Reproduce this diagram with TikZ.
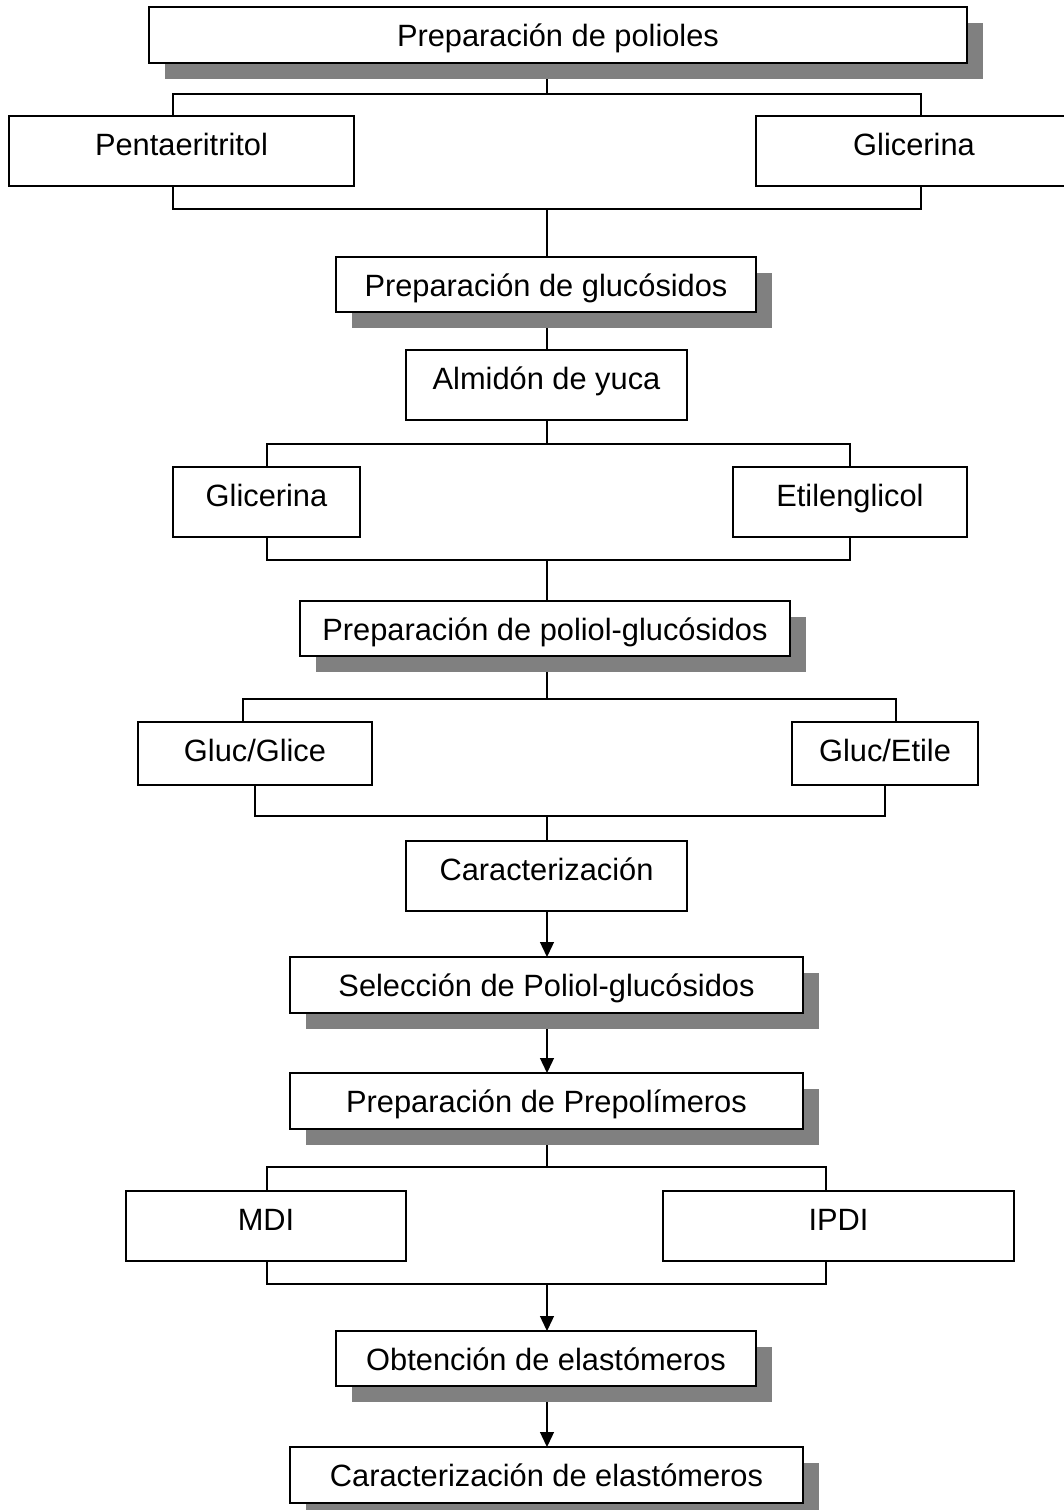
\documentclass[tikz,border=0pt]{standalone}
\usepackage{fontspec}
\setmainfont{Liberation Sans}
\usetikzlibrary{shadows,backgrounds,arrows.meta}
\tikzset{
  box/.style={draw, line width=1.5pt, fill=white, inner sep=0pt, outer sep=0pt,
    anchor=north, text height=39.5pt, font=\fontsize{30.8}{36}\selectfont},
  sbox/.style={box, drop shadow={shadow xshift=16pt, shadow yshift=-16pt, fill=black!50, opacity=1, draw=none}},
  conn/.style={line width=1.3pt},
  arr/.style={line width=1.3pt, -{Triangle[width=14pt,length=15pt]}}
}
\begin{document}
\begin{tikzpicture}[x=1pt,y=-1pt]
\useasboundingbox (0,0) rectangle (1064,1510);
% boxes
\node[sbox, minimum width=818pt, text depth=16.5pt] (top) at (558,7) {Preparación de polioles};
\node[box, minimum width=345pt, text depth=30.5pt] (pent) at (181.5,116) {Pentaeritritol};
\node[box, minimum width=316pt, text depth=30.5pt] (glic1) at (914,116) {Glicerina};
\node[sbox, minimum width=420pt, text depth=15.5pt] (gluco) at (546,257) {Preparación de glucósidos};
\node[box, minimum width=281pt, text depth=30.5pt] (almidon) at (546.5,350) {Almidón de yuca};
\node[box, minimum width=187pt, text depth=30.5pt] (glic2) at (266.5,467) {Glicerina};
\node[box, minimum width=234pt, text depth=30.5pt] (etil) at (850,467) {Etilenglicol};
\node[sbox, minimum width=490pt, text depth=15.5pt] (poliol) at (545,601) {Preparación de poliol-glucósidos};
\node[box, minimum width=234pt, text depth=23.5pt] (glucglice) at (255,722) {Gluc/Glice};
\node[box, minimum width=186pt, text depth=23.5pt] (glucetile) at (885,722) {Gluc/Etile};
\node[box, minimum width=281pt, text depth=30.5pt] (carac) at (546.5,841) {Caracterización};
\node[sbox, minimum width=513pt, text depth=16.5pt] (selec) at (546.5,957) {Selección de Poliol-glucósidos};
\node[sbox, minimum width=513pt, text depth=16.5pt] (prepol) at (546.5,1073) {Preparación de Prepolímeros};
\node[box, minimum width=280pt, text depth=30.5pt] (mdi) at (266,1191) {MDI};
\node[box, minimum width=351pt, text depth=30.5pt] (ipdi) at (838.5,1191) {IPDI};
\node[sbox, minimum width=420pt, text depth=15.5pt] (obten) at (546,1331) {Obtención de elastómeros};
\node[sbox, minimum width=513pt, text depth=16.5pt] (final) at (546.5,1447) {Caracterización de elastómeros};
% junction coordinates
\coordinate (m1) at (547,94);   \coordinate (a1) at (173,94);   \coordinate (b1) at (921,94);
\coordinate (m2) at (547,209);  \coordinate (a2) at (173,209);  \coordinate (b2) at (921,209);
\coordinate (m3) at (547,444);  \coordinate (a3) at (267,444);  \coordinate (b3) at (850,444);
\coordinate (m4) at (547,560);  \coordinate (a4) at (267,560);  \coordinate (b4) at (850,560);
\coordinate (m5) at (547,699);  \coordinate (a5) at (243,699);  \coordinate (b5) at (896,699);
\coordinate (m6) at (547,816);  \coordinate (a6) at (255,816);  \coordinate (b6) at (885,816);
\coordinate (m7) at (547,1167); \coordinate (a7) at (267,1167); \coordinate (b7) at (826,1167);
\coordinate (m8) at (547,1284); \coordinate (a8) at (267,1284); \coordinate (b8) at (826,1284);
\begin{scope}[on background layer]
\draw[conn] (top.south -| m1) -- (m1);
\draw[conn] (pent.north -| a1) -- (a1) -- (b1) -- (glic1.north -| b1);
\draw[conn] (pent.south -| a2) -- (a2) -- (b2) -- (glic1.south -| b2);
\draw[conn] (m2) -- (gluco.north -| m2);
\draw[conn] (gluco.south -| m2) -- (almidon.north -| m2);
\draw[conn] (almidon.south -| m3) -- (m3);
\draw[conn] (glic2.north -| a3) -- (a3) -- (b3) -- (etil.north -| b3);
\draw[conn] (glic2.south -| a4) -- (a4) -- (b4) -- (etil.south -| b4);
\draw[conn] (m4) -- (poliol.north -| m4);
\draw[conn] (poliol.south -| m5) -- (m5);
\draw[conn] (glucglice.north -| a5) -- (a5) -- (b5) -- (glucetile.north -| b5);
\draw[conn] (glucglice.south -| a6) -- (a6) -- (b6) -- (glucetile.south -| b6);
\draw[conn] (m6) -- (carac.north -| m6);
\draw[arr] (carac.south -| m6) -- (selec.north -| m6);
\draw[arr] (selec.south -| m6) -- (prepol.north -| m6);
\draw[conn] (prepol.south -| m7) -- (m7);
\draw[conn] (mdi.north -| a7) -- (a7) -- (b7) -- (ipdi.north -| b7);
\draw[conn] (mdi.south -| a8) -- (a8) -- (b8) -- (ipdi.south -| b8);
\draw[arr] (m8) -- (obten.north -| m8);
\draw[arr] (obten.south -| m8) -- (final.north -| m8);
\end{scope}
\end{tikzpicture}
\end{document}
